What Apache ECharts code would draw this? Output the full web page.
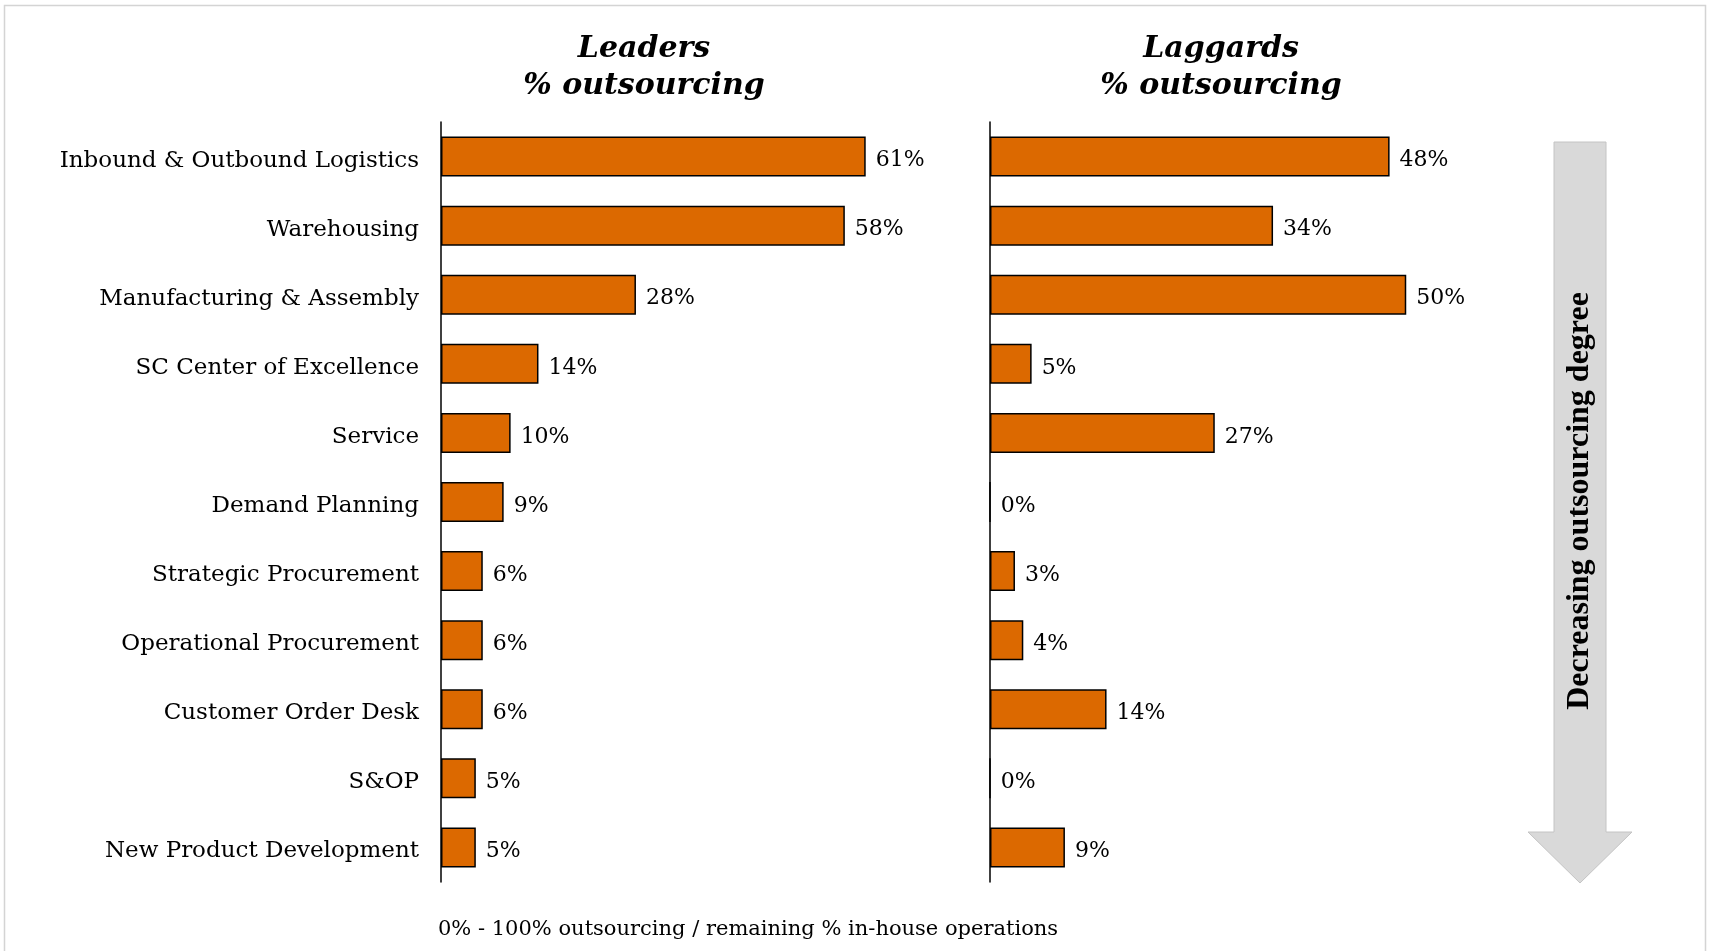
<!DOCTYPE html>
<html>
<head>
<meta charset="utf-8">
<title>Outsourcing by supply chain function: Leaders vs Laggards</title>
<script src="https://cdn.jsdelivr.net/npm/echarts@6/dist/echarts.min.js"></script>
<style>
  html, body { margin: 0; padding: 0; background: #ffffff; }
  #chart { width: 1709px; height: 951px; }
</style>
</head>
<body>
<div id="chart"></div>
<script>
// Supply chain functions, top to bottom
const functions = [
  'Inbound & Outbound Logistics',
  'Warehousing',
  'Manufacturing & Assembly',
  'SC Center of Excellence',
  'Service',
  'Demand Planning',
  'Strategic Procurement',
  'Operational Procurement',
  'Customer Order Desk',
  'S&OP',
  'New Product Development'
];

// Share of each function that is outsourced (%)
const leadersPct  = [61, 58, 28, 14, 10, 9, 6, 6, 6, 5, 5];
const laggardsPct = [48, 34, 50, 5, 27, 0, 3, 4, 14, 0, 9];

const panelTitles = ['Leaders\n% outsourcing', 'Laggards\n% outsourcing'];
const footNote = '0% - 100% outsourcing / remaining % in-house operations';
const arrowCaption = 'Decreasing outsourcing degree';

const SERIF = '"DejaVu Serif", "Liberation Serif", serif';
const ORANGE = '#DC6900';
const CATEGORY_SIZE = 23;
const VALUE_SIZE = 22;
const NOTE_SIZE = 21;

const chart = echarts.init(document.getElementById('chart'), null, { renderer: 'canvas' });

function barSeries(idx, values) {
  return {
    type: 'bar',
    xAxisIndex: idx,
    yAxisIndex: idx,
    data: values,
    barWidth: 40,
    silent: true,
    itemStyle: { color: ORANGE, borderColor: '#000000', borderWidth: 1.5 },
    label: {
      show: true,
      position: 'right',
      distance: 10,
      offset: [0, 4],
      formatter: '{c}%',
      color: '#000000',
      fontFamily: SERIF,
      fontSize: VALUE_SIZE
    }
  };
}

function valueAxis(idx) {
  return {
    type: 'value',
    gridIndex: idx,
    min: 0,
    max: 80,
    show: false
  };
}

function categoryAxis(idx, withLabels) {
  return {
    type: 'category',
    gridIndex: idx,
    data: functions,
    inverse: true,
    axisLine: { show: true, lineStyle: { color: '#000000', width: 1.5 } },
    axisTick: { show: false },
    splitLine: { show: false },
    axisLabel: {
      show: withLabels,
      margin: 22,
      // a short line box anchored at its top drops the text slightly below the bar centre
      verticalAlign: 'top',
      lineHeight: 8,
      color: '#000000',
      fontFamily: SERIF,
      fontSize: CATEGORY_SIZE
    }
  };
}

const titleStyle = {
  fontFamily: SERIF,
  fontStyle: 'italic',
  fontWeight: 'bold',
  fontSize: 30,
  lineHeight: 37,
  color: '#000000'
};

const option = {
  backgroundColor: '#ffffff',
  animation: false,
  title: [
    { text: panelTitles[0], left: 639, top: 26, textAlign: 'center', textStyle: titleStyle },
    { text: panelTitles[1], left: 1216, top: 26, textAlign: 'center', textStyle: titleStyle }
  ],
  grid: [
    { left: 441, top: 122, width: 557, height: 760, containLabel: false },
    { left: 990, top: 122, width: 666, height: 760, containLabel: false }
  ],
  xAxis: [valueAxis(0), valueAxis(1)],
  yAxis: [categoryAxis(0, true), categoryAxis(1, false)],
  series: [barSeries(0, leadersPct), barSeries(1, laggardsPct)],
  graphic: [
    {
      // outer frame
      type: 'rect',
      silent: true,
      shape: { x: 4.5, y: 5.5, width: 1701, height: 980 },
      style: { fill: 'none', stroke: '#D4D4D4', lineWidth: 1.5 }
    },
    {
      // downward arrow on the right
      type: 'polygon',
      silent: true,
      shape: {
        points: [
          [1554, 142], [1606, 142], [1606, 832], [1632, 832],
          [1580, 883], [1528, 832], [1554, 832]
        ]
      },
      style: { fill: '#D9D9D9', stroke: '#C4C4C4', lineWidth: 1 }
    },
    {
      type: 'text',
      silent: true,
      x: 1580, y: 501,
      rotation: Math.PI / 2,
      style: {
        text: arrowCaption,
        fill: '#000000',
        font: 'bold 32px "Liberation Serif", "Times New Roman", serif',
        align: 'center',
        verticalAlign: 'middle'
      }
    },
    {
      type: 'text',
      silent: true,
      x: 438, y: 930,
      style: {
        text: footNote,
        fill: '#000000',
        font: NOTE_SIZE + 'px ' + SERIF,
        align: 'left',
        verticalAlign: 'middle'
      }
    }
  ]
};

chart.setOption(option);
</script>
</body>
</html>
